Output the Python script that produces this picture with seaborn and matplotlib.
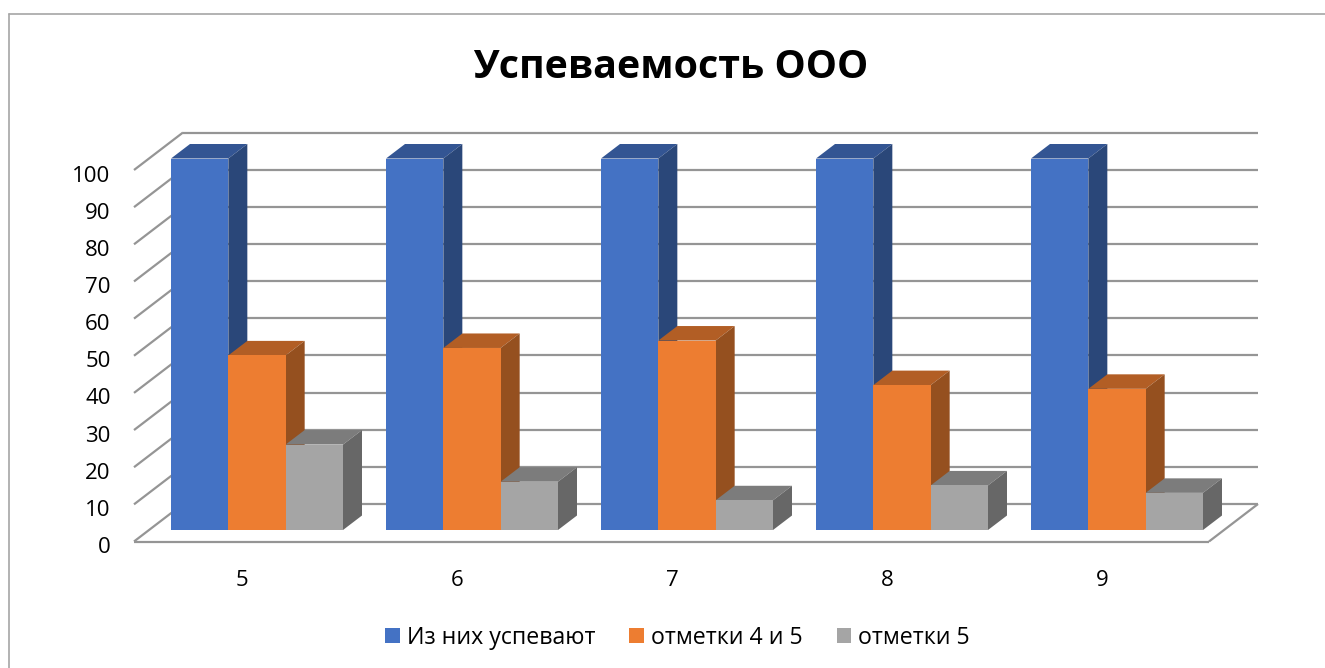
import pandas as pd
import matplotlib.pyplot as plt
import seaborn as sns
from matplotlib.lines import Line2D
from matplotlib.patches import Polygon
from matplotlib.transforms import Affine2D, IdentityTransform

grades = ['5', '6', '7', '8', '9']
series_names = ['Из них успевают', 'отметки 4 и 5', 'отметки 5']
passing = [100, 100, 100, 100, 100]
marks_4_5 = [47, 49, 51, 39, 38]
marks_5 = [23, 13, 8, 12, 10]
y_ticks = list(range(0, 101, 10))

front_colors = ['#4472C4', '#ED7D31', '#A5A5A5']
top_colors = ['#335593', '#B25E25', '#7C7C7C']
side_colors = ['#2A4779', '#95501F', '#676767']
grid_color = '#959595'

W, H = 1325, 668

sns.set_theme(style='white')
plt.rcParams['font.family'] = ['Open Sans', 'DejaVu Sans']

df = pd.DataFrame({
    'grade': grades * 3,
    'series': [s for s in series_names for _ in grades],
    'value': passing + marks_4_5 + marks_5,
})

fig = plt.figure(figsize=(W / 100, H / 100), dpi=100, facecolor='white')
# the axes box is the plane of the bar fronts
ax = fig.add_axes([149.5 / W, (H - 530) / H, 1075 / W, 371.5 / H])
sns.barplot(data=df, x='grade', y='value', hue='series', hue_order=series_names,
            palette=front_colors, saturation=1, width=0.8, gap=0, linewidth=0,
            edgecolor='none', ax=ax)
ax.set_xlim(-0.5, 4.5)
ax.set_ylim(0, 100)
ax.set_xlabel('')
ax.set_ylabel('')
sns.despine(ax=ax, left=True, bottom=True)
ax.patch.set_alpha(0)

# depth offsets in pixels: front edge of floor, back wall, bar depth
front = (-15.5, -11.5)
back = (33.5, 26)
depth = (19, 14.5)


def px(x, y, off=(0, 0)):
    a, b = ax.transData.transform((x, y))
    return a + off[0], b + off[1]


def grid_line(p, q):
    ln = Line2D([p[0], q[0]], [p[1], q[1]], color=grid_color, lw=1.6,
                transform=IdentityTransform(), zorder=1, solid_capstyle='butt')
    ax.add_line(ln)
    ln.set_clip_on(False)


for t in y_ticks:
    grid_line(px(-0.5, t, front), px(-0.5, t, back))
    grid_line(px(-0.5, t, back), px(4.5, t, back))
grid_line(px(-0.5, 0, front), px(4.5, 0, front))
grid_line(px(4.5, 0, front), px(4.5, 0, back))

# top and side faces for each bar, left to right so nearer bars cover them
bars = []
for i, cont in enumerate(ax.containers):
    for b in cont:
        bars.append((b.get_x(), b, i))
bars.sort(key=lambda r: r[0])
z = 3
for _, b, i in bars:
    x0, x1 = b.get_x(), b.get_x() + b.get_width()
    h = b.get_height()
    top = [px(x0, h), px(x1, h), px(x1, h, depth), px(x0, h, depth)]
    side = [px(x1, 0), px(x1, 0, depth), px(x1, h, depth), px(x1, h)]
    for pts, col in ((top, top_colors[i]), (side, side_colors[i])):
        poly = Polygon(pts, closed=True, facecolor=col, edgecolor='none',
                       transform=IdentityTransform(), zorder=z)
        ax.add_patch(poly)
        poly.set_clip_on(False)
    b.set_zorder(z + 1)
    b.set_clip_on(False)
    z += 2

ax.set_yticks(y_ticks)
ax.tick_params(axis='both', length=0, labelsize=16, colors='black')
ax.tick_params(axis='y', pad=28)
ax.tick_params(axis='x', pad=29)
for lab in ax.get_yticklabels():
    lab.set_transform(lab.get_transform() + Affine2D().translate(0, -15))
for lab in ax.get_xticklabels():
    lab.set_transform(lab.get_transform() + Affine2D().translate(-15, 0))

handles = [plt.Rectangle((0, 0), 1, 1, facecolor=c, edgecolor='none') for c in front_colors]
ax.get_legend().remove()
fig.legend(handles, series_names, loc='center', bbox_to_anchor=(677.5 / W, (H - 638) / H),
           ncol=3, frameon=False, fontsize=16.7, labelcolor='black', handlelength=0.625,
           handleheight=0.625, handletextpad=0.3, columnspacing=1.47, borderpad=0)

fig.text(671 / W, (H - 67) / H, 'Успеваемость ООО', ha='center', va='center',
         fontsize=28.4, fontweight='bold', color='black')

# chart frame, cut off at the right and bottom of the picture
border = '#A6A6A6'
fig.add_artist(Line2D([8.5 / W, 8.5 / W], [0, (H - 14) / H], color=border, lw=1.2))
fig.add_artist(Line2D([8.5 / W, 1], [(H - 14) / H, (H - 14) / H], color=border, lw=1.2))

fig.savefig('out.png', dpi=100, facecolor='white')
